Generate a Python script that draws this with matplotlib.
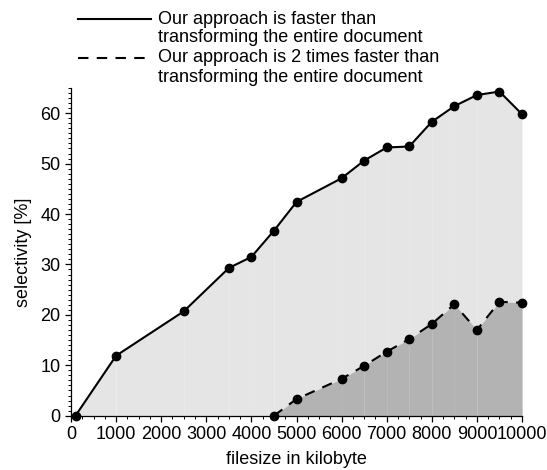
import matplotlib
matplotlib.use("Agg")
import matplotlib.pyplot as plt
from matplotlib.lines import Line2D
from matplotlib.ticker import MultipleLocator

plt.rcParams['font.family'] = ['Liberation Sans', 'DejaVu Sans']

# data
filesize = [100, 1000, 2500, 3500, 4000, 4500, 5000, 6000, 6500, 7000,
            7500, 8000, 8500, 9000, 9500, 10000]
faster = [0, 11.9, 20.7, 29.3, 31.5, 36.7, 42.4, 47.1, 50.6, 53.2,
          53.4, 58.3, 61.4, 63.6, 64.3, 59.8]

filesize2 = [4500, 5000, 6000, 6500, 7000, 7500, 8000, 8500, 9000, 9500, 10000]
faster2 = [0, 3.3, 7.3, 9.9, 12.7, 15.2, 18.2, 22.1, 17.0, 22.6, 22.4]

label1 = ["Our approach is faster than", "transforming the entire document"]
label2 = ["Our approach is 2 times faster than", "transforming the entire document"]

W, H = 547, 470
fig = plt.figure(figsize=(W / 100, H / 100), dpi=100)
ax = fig.add_axes([71 / W, 1 - 415.7 / H, 451 / W, 327.7 / H])

# filled areas, one segment at a time (gives the faint seams)
for i in range(len(filesize) - 1):
    ax.fill_between(filesize[i:i + 2], 0, faster[i:i + 2],
                    color='#e5e5e5', linewidth=0)
for i in range(len(filesize2) - 1):
    ax.fill_between(filesize2[i:i + 2], 0, faster2[i:i + 2],
                    color='#b3b3b3', linewidth=0)

lw = 1.5
dash = (5, 4)
ax.plot(filesize, faster, color='black', linewidth=lw, marker='o',
        markersize=6, clip_on=False, zorder=3)
ax.plot(filesize2, faster2, color='black', linewidth=lw, marker='o',
        markersize=6, dashes=dash, clip_on=False, zorder=3)

ax.set_xlim(0, 10000)
ax.set_ylim(0, 65)
ax.spines['top'].set_visible(False)
ax.spines['right'].set_visible(False)
ax.spines['left'].set_linewidth(0.9)
ax.spines['bottom'].set_linewidth(0.9)

ax.xaxis.set_major_locator(MultipleLocator(1000))
ax.xaxis.set_minor_locator(MultipleLocator(250))
ax.yaxis.set_major_locator(MultipleLocator(10))
ax.yaxis.set_minor_locator(MultipleLocator(1))
ax.tick_params(which='major', length=4, width=0.9, labelsize=13, pad=3.5)
ax.tick_params(which='minor', length=2, width=0.7)

ax.set_xlabel("filesize in kilobyte", fontsize=13, labelpad=6)
ax.set_ylabel("selectivity [%]", fontsize=13, labelpad=6)

# legend, handle aligned with the first line of each entry
rows = [(19, label1[0], {}), (38, label1[1], None),
        (58, label2[0], {'dashes': dash}), (77, label2[1], None)]
for y, text, style in rows:
    fy = 1 - y / H
    if style is not None:
        fig.add_artist(Line2D([78 / W, 151 / W], [fy, fy], color='black',
                              linewidth=lw, **style))
    fig.text(158 / W, fy, text, fontsize=13, va='center', ha='left')

fig.savefig("out.png", dpi=100)
